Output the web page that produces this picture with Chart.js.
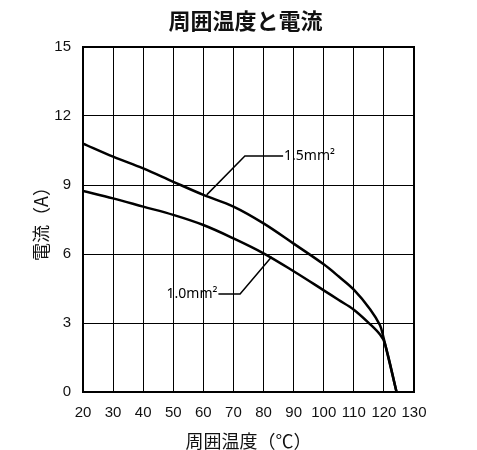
<!DOCTYPE html>
<html>
<head>
<meta charset="utf-8">
<script src="https://cdn.jsdelivr.net/npm/chart.js@4/dist/chart.umd.min.js"></script>
<style>
  html, body { margin: 0; padding: 0; background: #fff; }
  #wrap { width: 477px; height: 450px; }
</style>
</head>
<body>
<div id="wrap"><canvas id="chart" width="477" height="450"></canvas></div>
<script>
const chartTitle = '周囲温度と電流';
const xTitle = '周囲温度（℃）';
const yTitle = '電流（A）';

// 1.5mm2 wire
const temps15 = [20, 30, 40, 50, 60, 70, 80, 90, 100, 105, 110, 115.4, 118.7, 119.8, 124.2];
const amps15 = [10.8, 10.23, 9.72, 9.14, 8.57, 8.06, 7.33, 6.45, 5.55, 5.02, 4.45, 3.6, 2.9, 2.4, 0];

// 1.0mm2 wire
const temps10 = [20, 30, 40, 50, 60, 70, 80, 90, 100, 105, 110, 115.4, 118.7, 120.3, 124.2];
const amps10 = [8.74, 8.42, 8.06, 7.7, 7.26, 6.68, 6.03, 5.25, 4.42, 4.0, 3.58, 2.95, 2.5, 2.12, 0];

// leader lines: [curve point, elbow, end], label
const leader15 = { pts: [[61.1, 8.57], [73.8, 10.26], [86.5, 10.26]], text: '1.5mm²', align: 'left' };
const leader10 = { pts: [[82.7, 5.88], [72.2, 4.26], [65.0, 4.26]], text: '1.0mm²', align: 'right' };

const toXY = (xs, ys) => xs.map((x, i) => ({ x: x, y: ys[i] }));

const framePlugin = {
    id: 'frame',
    afterDraw(chart) {
        const { ctx, chartArea } = chart;
        ctx.save();
        ctx.strokeStyle = '#000';
        ctx.lineWidth = 2;
        ctx.strokeRect(chartArea.left, chartArea.top, chartArea.right - chartArea.left, chartArea.bottom - chartArea.top);
        ctx.restore();
    }
};

const leaderPlugin = {
    id: 'leaders',
    afterDatasetsDraw(chart) {
        const { ctx, scales } = chart;
        [leader15, leader10].forEach(l => {
            ctx.save();
            ctx.strokeStyle = '#000';
            ctx.lineWidth = 1.5;
            ctx.beginPath();
            l.pts.forEach((p, i) => {
                const px = scales.x.getPixelForValue(p[0]);
                const py = scales.y.getPixelForValue(p[1]);
                if (i === 0) ctx.moveTo(px, py); else ctx.lineTo(px, py);
            });
            ctx.stroke();
            const last = l.pts[l.pts.length - 1];
            const tx = scales.x.getPixelForValue(last[0]) + (l.align === 'left' ? 1 : -1);
            const ty = scales.y.getPixelForValue(last[1]);
            ctx.fillStyle = '#000';
            ctx.font = '14px "Noto Sans", sans-serif';
            ctx.textAlign = l.align;
            ctx.textBaseline = 'middle';
            ctx.fillText(l.text, tx, ty);
            ctx.restore();
        });
    }
};

const lineStyle = {
    borderColor: '#000',
    borderWidth: 2.5,
    pointRadius: 0,
    fill: false,
    tension: 0.35
};

new Chart(document.getElementById('chart'), {
    type: 'line',
    data: {
        datasets: [
            { label: '1.5mm²', data: toXY(temps15, amps15), ...lineStyle },
            { label: '1.0mm²', data: toXY(temps10, amps10), ...lineStyle }
        ]
    },
    options: {
        responsive: false,
        animation: false,
        layout: { padding: { left: 14, right: 0, top: 0, bottom: 0 } },
        plugins: {
            legend: { display: false },
            tooltip: { enabled: false },
            title: {
                display: true,
                text: chartTitle,
                color: '#111',
                font: { family: '"Noto Sans CJK JP", sans-serif', size: 22, weight: 'bold' },
                padding: { top: 7, bottom: 13.6 }
            }
        },
        scales: {
            x: {
                type: 'linear',
                min: 20,
                max: 130,
                afterFit(scale) { scale.height = 58; },
                ticks: {
                    stepSize: 10,
                    color: '#111',
                    padding: 12,
                    maxRotation: 0,
                    minRotation: 0,
                    autoSkip: false,
                    font: { family: '"Liberation Sans", Arial, sans-serif', size: 15 }
                },
                grid: { color: '#000', lineWidth: 1, drawTicks: false },
                border: { color: '#000', width: 2 },
                title: {
                    display: true,
                    text: xTitle,
                    color: '#111',
                    font: { family: '"Noto Sans CJK JP", sans-serif', size: 18 },
                    padding: { top: 0, bottom: -2 }
                }
            },
            y: {
                min: 0,
                max: 15,
                afterFit(scale) { scale.width = 69; },
                ticks: {
                    stepSize: 3,
                    color: '#111',
                    padding: 12,
                    font: { family: '"Liberation Sans", Arial, sans-serif', size: 15 }
                },
                grid: { color: '#000', lineWidth: 1, drawTicks: false },
                border: { color: '#000', width: 2 },
                title: {
                    display: true,
                    text: yTitle,
                    color: '#111',
                    font: { family: '"Noto Sans CJK JP", sans-serif', size: 18 },
                    padding: { top: 16, bottom: 0 }
                }
            },
            y2: {
                position: 'right',
                afterFit(scale) { scale.width = 63; },
                ticks: { display: false },
                grid: { display: false },
                border: { display: false }
            }
        }
    },
    plugins: [leaderPlugin, framePlugin]
});
</script>
</body>
</html>
